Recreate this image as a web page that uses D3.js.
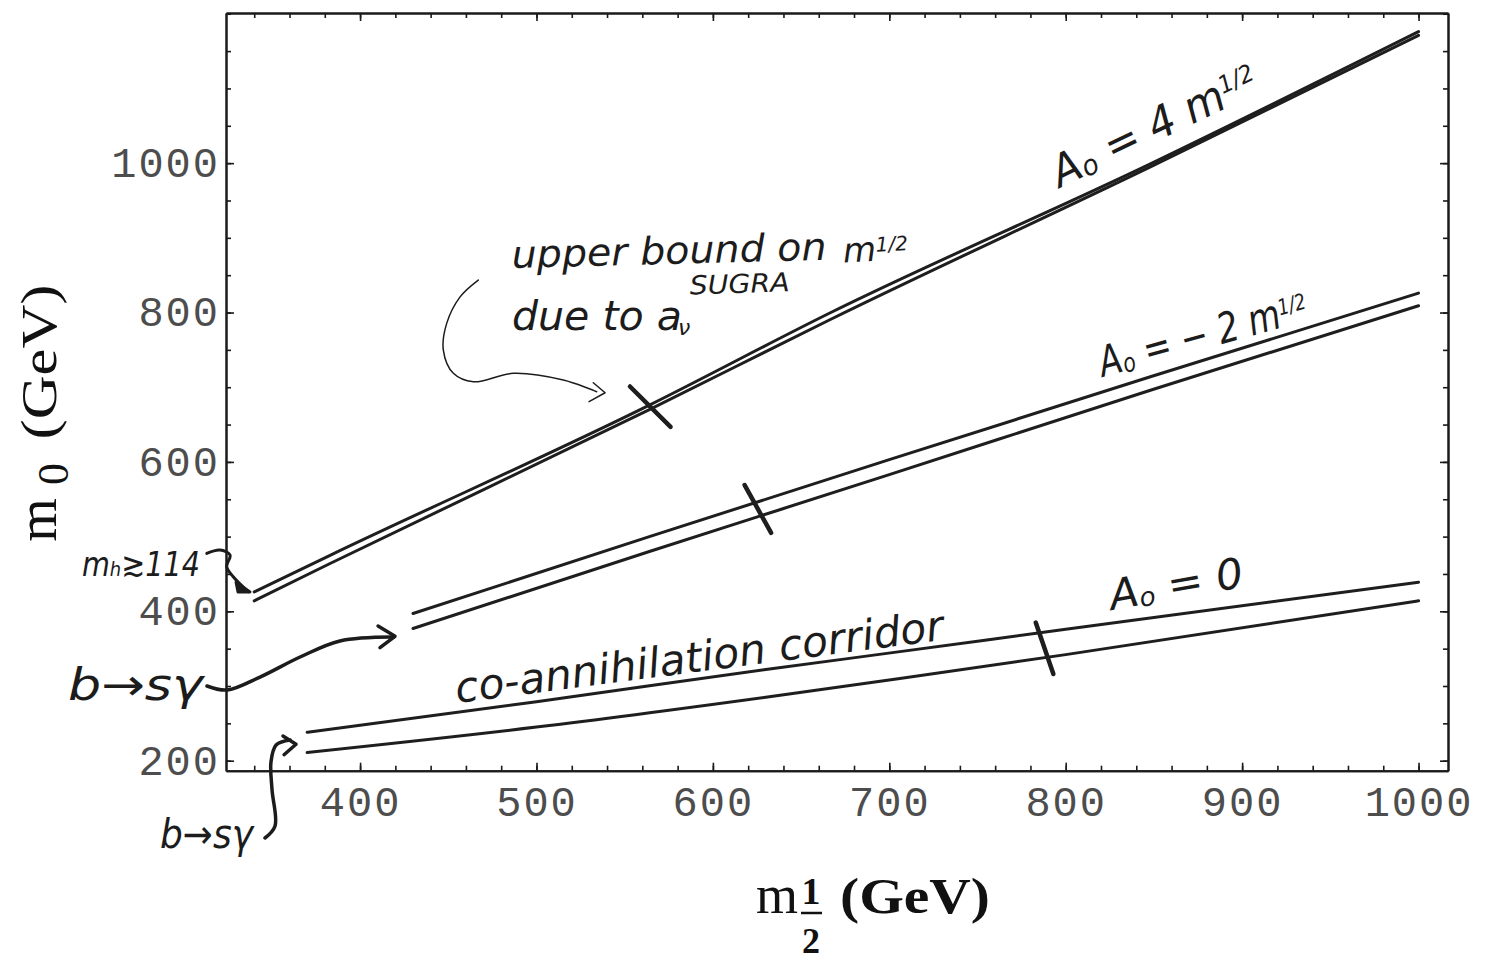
<!DOCTYPE html>
<html>
<head>
<meta charset="utf-8">
<style>
  body { margin: 0; background: #fff; }
  .hand { font-family: "DejaVu Sans", sans-serif; font-style: italic; fill: #1c1c1c; }
  .title { font-family: "Liberation Serif", serif; fill: #111; }
</style>
</head>
<body>
<svg width="1487" height="963"></svg>
<script src="https://d3js.org/d3.v7.min.js"></script>
<script>
// tick values
var mHalfMajor = [400, 500, 600, 700, 800, 900, 1000];
var mHalfMinor = d3.range(340, 1001, 20);
var m0Major = [200, 400, 600, 800, 1000];
var m0Minor = d3.range(200, 1201, 50);

// A0 = 4 m1/2 band
var a4Mhalf = [340, 383, 564, 666, 848, 1000];
var a4Upper = [426, 475, 676, 799, 999, 1176];
var a4Lower = [414, 464, 670, 790, 995, 1171];

// A0 = -2 m1/2 band
var am2Mhalf = [430, 564, 700, 848, 1000];
var am2Upper = [397, 500, 603, 714, 826];
var am2Lower = [377, 480, 583, 696, 809];

// A0 = 0 band (co-annihilation corridor)
var a0Mhalf = [370, 500, 630, 706, 800, 1000];
var a0Upper = [238, 279, 322, 346, 376, 439];
var a0Lower = [211, 245, 285, 310, 342, 414];

// bars across the bands (upper bound from a_mu)
var barFromM = [553, 618, 783];
var barFromM0 = [701, 569, 385];
var barToM = [576, 633, 793];
var barToM0 = [647, 505, 316];

var svg = d3.select("svg");
var margin = {top: 13, right: 39, bottom: 192.3, left: 226};
var width = +svg.attr("width") - margin.left - margin.right;
var height = +svg.attr("height") - margin.top - margin.bottom;

svg.append("rect").attr("width", 1487).attr("height", 963).attr("fill", "#fff");

var g = svg.append("g")
    .attr("transform", "translate(" + margin.left + "," + margin.top + ")");

var x = d3.scaleLinear().domain([324, 1016.7]).range([0, width]);
var y = d3.scaleLinear().domain([186.6, 1201]).range([height, 0]);

// frame + ticks on all sides, pointing inward
function styleAxis(sel, labels) {
  sel.select(".domain").attr("stroke", "#1a1a1a").attr("stroke-width", 2);
  sel.selectAll(".tick line").attr("stroke", "#1a1a1a").attr("stroke-width", 1.6);
  sel.selectAll(".tick text")
      .attr("font-family", "'Liberation Mono', monospace")
      .attr("font-size", 42)
      .attr("fill", "#4d4d4d")
      .style("letter-spacing", "2px");
  if (!labels) sel.selectAll(".tick text").remove();
}

g.append("g").attr("transform", "translate(0," + height + ")")
  .call(d3.axisBottom(x).tickValues(mHalfMinor).tickSize(-5).tickSizeOuter(0))
  .call(styleAxis, false);
g.append("g").attr("transform", "translate(0," + height + ")")
  .call(d3.axisBottom(x).tickValues(mHalfMajor).tickSize(-8).tickSizeOuter(0)
        .tickPadding(15).tickFormat(d3.format("d")))
  .call(styleAxis, true);
g.append("g")
  .call(d3.axisTop(x).tickValues(mHalfMinor).tickSize(-5).tickSizeOuter(0))
  .call(styleAxis, false);
g.append("g")
  .call(d3.axisTop(x).tickValues(mHalfMajor).tickSize(-8).tickSizeOuter(0))
  .call(styleAxis, false);

g.append("g")
  .call(d3.axisLeft(y).tickValues(m0Minor).tickSize(-5).tickSizeOuter(0))
  .call(styleAxis, false);
g.append("g")
  .call(d3.axisLeft(y).tickValues(m0Major).tickSize(-8).tickSizeOuter(0)
        .tickPadding(6).tickFormat(d3.format("d")))
  .call(styleAxis, true);
g.append("g").attr("transform", "translate(" + width + ",0)")
  .call(d3.axisRight(y).tickValues(m0Minor).tickSize(-5).tickSizeOuter(0))
  .call(styleAxis, false);
g.append("g").attr("transform", "translate(" + width + ",0)")
  .call(d3.axisRight(y).tickValues(m0Major).tickSize(-8).tickSizeOuter(0))
  .call(styleAxis, false);

// band lines
var line = d3.line()
    .x(function(d) { return x(d[0]); })
    .y(function(d) { return y(d[1]); })
    .curve(d3.curveMonotoneX);

function pairs(ms, vs) { return ms.map(function(m, i) { return [m, vs[i]]; }); }

var bands = [
  pairs(a4Mhalf, a4Upper), pairs(a4Mhalf, a4Lower),
  pairs(am2Mhalf, am2Upper), pairs(am2Mhalf, am2Lower),
  pairs(a0Mhalf, a0Upper), pairs(a0Mhalf, a0Lower)
];

g.selectAll(".band")
  .data(bands)
  .enter().append("path")
    .attr("class", "band")
    .attr("fill", "none")
    .attr("stroke", "#1e1e1e")
    .attr("stroke-width", 3)
    .attr("stroke-linecap", "round")
    .attr("d", line);

g.selectAll(".bar")
  .data(barFromM)
  .enter().append("line")
    .attr("class", "bar")
    .attr("x1", function(d) { return x(d); })
    .attr("y1", function(d, i) { return y(barFromM0[i]); })
    .attr("x2", function(d, i) { return x(barToM[i]); })
    .attr("y2", function(d, i) { return y(barToM0[i]); })
    .attr("stroke", "#1e1e1e")
    .attr("stroke-width", 4.5)
    .attr("stroke-linecap", "round");

// hand-drawn arrows (in data units)
var smooth = d3.line()
    .x(function(d) { return x(d[0]); })
    .y(function(d) { return y(d[1]); })
    .curve(d3.curveCatmullRom);
var straight = d3.line()
    .x(function(d) { return x(d[0]); })
    .y(function(d) { return y(d[1]); });

function arrow(pts, head, w, fillHead) {
  g.append("path").attr("d", smooth(pts)).attr("fill", "none")
    .attr("stroke", "#1c1c1c").attr("stroke-width", w)
    .attr("stroke-linecap", "round").attr("stroke-linejoin", "round");
  g.append("path").attr("d", straight(head) + (fillHead ? "Z" : ""))
    .attr("fill", fillHead ? "#1c1c1c" : "none")
    .attr("stroke", "#1c1c1c").attr("stroke-width", w)
    .attr("stroke-linecap", "round").attr("stroke-linejoin", "round");
}

arrow([[467, 843.5], [456.7, 821], [449.1, 785.5], [447.2, 749.8], [452.9, 718.6],
       [464.2, 707.3], [486.9, 718.6], [515.2, 709.6], [534.1, 694]],
      [[532.2, 706], [538.9, 692.6], [529.8, 680.6]], 1.5, false);
arrow([[313.1, 477.6], [320.6, 482.1], [326.3, 475.4], [324.4, 459.7], [328.1, 446.3], [336.6, 426.2]],
      [[329.7, 439], [337.6, 426], [330.8, 426]], 3, true);
arrow([[313.2, 300], [324.6, 294.6], [343.3, 312], [366, 338.8], [388.6, 360.3], [418.1, 365.6]],
      [[410.2, 380.3], [419.8, 366.5], [411.3, 351.3]], 3.5, false);
arrow([[346.1, 96.5], [351.8, 112.6], [350.1, 160.8], [349.5, 198.3], [352.4, 221], [360.3, 227.7]],
      [[356.3, 233], [363.7, 222], [356.9, 208]], 3.5, false);

// hand-written notes
function note(m, m0, angle, size, len) {
  var t = g.append("text").attr("class", "hand")
    .attr("transform", "translate(" + x(m) + "," + y(m0) + ") rotate(" + angle + ")")
    .attr("font-size", size);
  if (len) t.attr("textLength", len).attr("lengthAdjust", "spacingAndGlyphs");
  return t;
}

note(486.1, 859.6, -1.5, 38, 315).text("upper bound on");
var mh = note(674, 867, -3, 34);
mh.append("tspan").text("m");
mh.append("tspan").attr("font-size", 20).attr("dy", -9).text("1/2");
note(486.1, 776.6, 0, 40, 170).text("due to a");
note(580.2, 769.9, 0, 22).text("\u03bd");
note(587, 824, -2, 26, 100).text("SUGRA");

note(455, 277.2, -7.4, 42, 492).text("co-annihilation corridor");

var t4 = note(796.8, 966.6, -25.7, 44, 224);
t4.append("tspan").text("A");
t4.append("tspan").attr("font-size", 28).attr("dy", 2).text("o");
t4.append("tspan").attr("dy", -2).text(" = 4 m");
t4.append("tspan").attr("font-size", 24).attr("dy", -14).text("1/2");

var t2 = note(821.2, 713.6, -15.5, 42, 215);
t2.append("tspan").text("A");
t2.append("tspan").attr("font-size", 26).attr("dy", 2).text("o");
t2.append("tspan").attr("dy", -2).text(" = \u2212 2 m");
t2.append("tspan").attr("font-size", 22).attr("dy", -12).text("1/2");

var t0 = note(826.3, 401.7, -10, 42, 135);
t0.append("tspan").text("A");
t0.append("tspan").attr("font-size", 26).attr("dy", 2).text("o");
t0.append("tspan").attr("dy", -2).text(" = 0");

note(242.4, 447, 0, 34, 118).text("m\u2095\u2273114");

note(234.4, 281.2, 0, 44, 135).text("b\u2192s\u03b3");
note(286.6, 83.1, 0, 40, 93).text("b\u2192s\u03b3");

// axis titles
svg.append("text").attr("class", "title")
  .attr("transform", "translate(56,362) rotate(-90)")
  .attr("text-anchor", "middle").attr("font-size", 50)
  .attr("textLength", 155).attr("lengthAdjust", "spacingAndGlyphs")
  .text("(GeV)");
svg.append("text").attr("class", "title")
  .attr("transform", "translate(56,520) rotate(-90)")
  .attr("text-anchor", "middle").attr("font-size", 56)
  .text("m");
svg.append("text").attr("class", "title")
  .attr("transform", "translate(68,474) rotate(-90)")
  .attr("text-anchor", "middle").attr("font-size", 44)
  .text("0");

svg.append("text").attr("class", "title")
  .attr("x", 777).attr("y", 913).attr("text-anchor", "middle")
  .attr("font-size", 54).text("m");
svg.append("text").attr("class", "title")
  .attr("x", 811).attr("y", 904).attr("text-anchor", "middle")
  .attr("font-size", 38).attr("font-weight", "bold").text("1");
svg.append("line")
  .attr("x1", 801).attr("x2", 822).attr("y1", 913).attr("y2", 913)
  .attr("stroke", "#111").attr("stroke-width", 2.5);
svg.append("text").attr("class", "title")
  .attr("x", 811).attr("y", 953).attr("text-anchor", "middle")
  .attr("font-size", 36).attr("font-weight", "bold").text("2");
svg.append("text").attr("class", "title")
  .attr("x", 915).attr("y", 913).attr("text-anchor", "middle")
  .attr("font-size", 50).attr("font-weight", "bold")
  .attr("textLength", 150).attr("lengthAdjust", "spacingAndGlyphs")
  .text("(GeV)");
</script>
</body>
</html>
